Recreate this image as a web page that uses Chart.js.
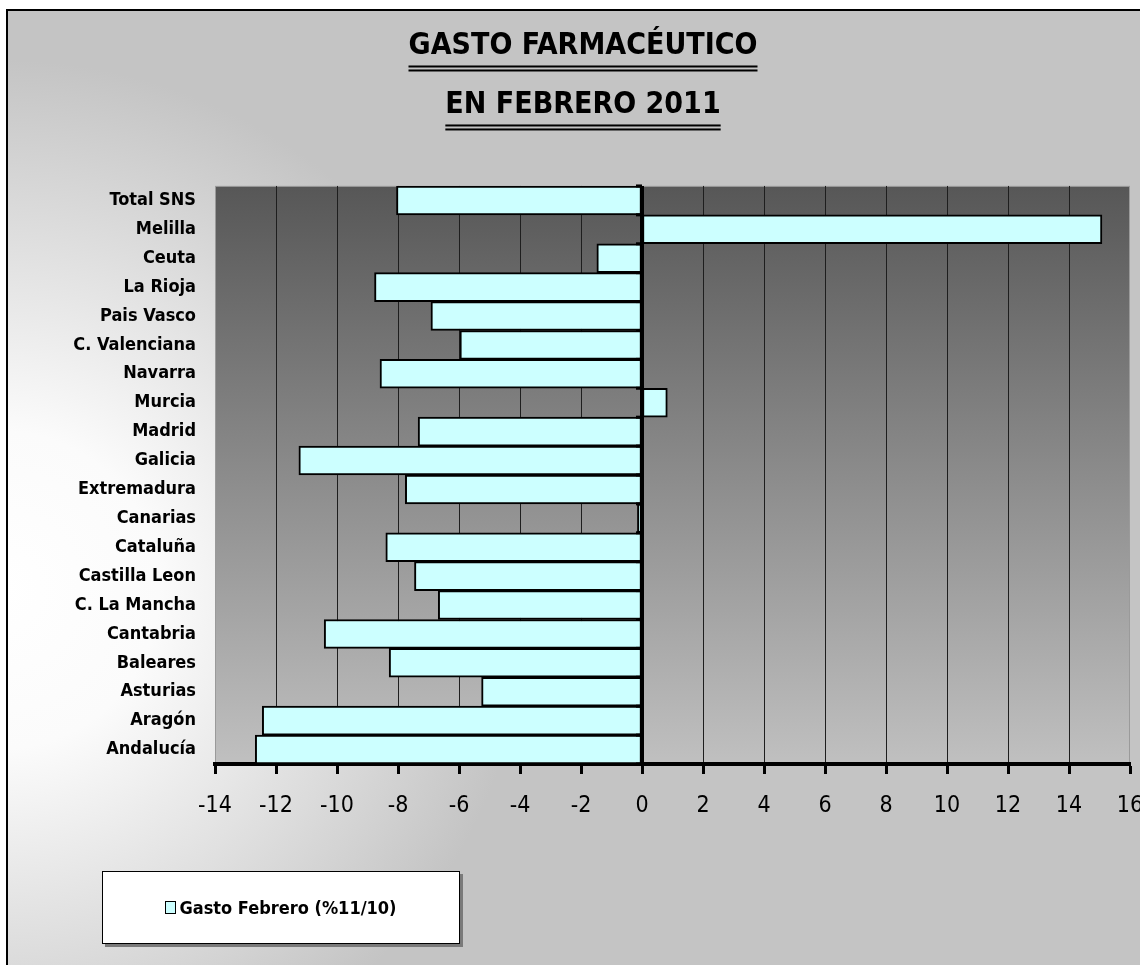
<!DOCTYPE html>
<html>
<head>
<meta charset="utf-8">
<title>Gasto farmacéutico en febrero 2011</title>
<script src="https://cdn.jsdelivr.net/npm/chart.js@4.4.0/dist/chart.umd.min.js"></script>
<style>
  html, body { margin: 0; padding: 0; background: #fff; }
  #wrap { position: relative; width: 1140px; height: 965px; overflow: hidden; }
  #legend {
    position: absolute; left: 102px; top: 871px; width: 356px; height: 71px;
    background: #fff; border: 1px solid #000; box-shadow: 3px 3px 0 #7a7a7a;
    display: flex; align-items: center; justify-content: center;
    font: bold 18px 'Liberation Sans Narrow', 'Arial Narrow', 'DejaVu Sans Condensed', sans-serif;
    color: #000;
  }
  #legend .swatch { width: 9px; height: 11px; background: #ccffff; border: 1px solid #000; margin-right: 3px; }
</style>
</head>
<body>
<div id="wrap">
  <canvas id="gastoChart" width="1140" height="965"></canvas>
  <div id="legend"><span class="swatch"></span><span>Gasto Febrero (%11/10)</span></div>
</div>
<script>
// Data (top row first)
const categories = ['Total SNS', 'Melilla', 'Ceuta', 'La Rioja', 'Pais Vasco', 'C. Valenciana',
  'Navarra', 'Murcia', 'Madrid', 'Galicia', 'Extremadura', 'Canarias', 'Cataluña',
  'Castilla Leon', 'C. La Mancha', 'Cantabria', 'Baleares', 'Asturias', 'Aragón', 'Andalucía'];
const gastoFebrero = [-8.05, 15.08, -1.48, -8.77, -6.92, -5.97, -8.59, 0.83, -7.34, -11.25,
  -7.76, -0.15, -8.40, -7.46, -6.68, -10.42, -8.29, -5.26, -12.45, -12.68];
const xMin = -14;
const xMax = 16;
const xStep = 2;
const titleLines = ['GASTO FARMACÉUTICO', 'EN FEBRERO 2011'];

const narrow = "'Liberation Sans Narrow', 'Arial Narrow', 'DejaVu Sans Condensed', sans-serif";

// Backgrounds: outer gradient + plot area gradient
const backgroundPlugin = {
  id: 'backgrounds',
  beforeDraw(chart) {
    const ctx = chart.ctx;
    const area = chart.chartArea;
    ctx.save();
    ctx.fillStyle = '#fff';
    ctx.fillRect(0, 0, chart.width, chart.height);
    const rg = ctx.createRadialGradient(0, 590, 0, 0, 590, 530);
    rg.addColorStop(0, '#ffffff');
    rg.addColorStop(0.3, '#fbfbfb');
    rg.addColorStop(1, '#c4c4c4');
    ctx.fillStyle = rg;
    ctx.fillRect(7, 10, chart.width, chart.height);
    ctx.strokeStyle = '#000';
    ctx.lineWidth = 2;
    ctx.beginPath();
    ctx.moveTo(7, chart.height);
    ctx.lineTo(7, 10);
    ctx.lineTo(chart.width, 10);
    ctx.stroke();

    const lg = ctx.createLinearGradient(0, area.top, 0, area.bottom);
    lg.addColorStop(0, '#575757');
    lg.addColorStop(1, '#c0c0c0');
    ctx.fillStyle = lg;
    ctx.fillRect(area.left, area.top, area.right - area.left, area.bottom - area.top);
    ctx.strokeStyle = '#9a9a9a';
    ctx.lineWidth = 1;
    ctx.strokeRect(area.left + 0.5, area.top + 0.5, area.right - area.left - 1, area.bottom - area.top);
    ctx.restore();
  }
};

// Zero line with its small ticks, drawn over the bars
const zeroAxisPlugin = {
  id: 'zeroAxis',
  afterDatasetsDraw(chart) {
    const ctx = chart.ctx;
    const area = chart.chartArea;
    const x0 = chart.scales.x.getPixelForValue(0);
    const yScale = chart.scales.y;
    ctx.save();
    ctx.strokeStyle = '#000';
    ctx.lineWidth = 4;
    ctx.beginPath();
    ctx.moveTo(x0, area.top);
    ctx.lineTo(x0, area.bottom);
    ctx.stroke();
    ctx.lineWidth = 3;
    for (let i = 0; i <= categories.length; i++) {
      const y = yScale.getPixelForValue(i - 0.5);
      ctx.beginPath();
      ctx.moveTo(x0 - 6, y);
      ctx.lineTo(x0, y);
      ctx.stroke();
    }
    ctx.restore();
  }
};

// Double underline below each title line
const underlinePlugin = {
  id: 'doubleUnderline',
  afterDraw(chart) {
    const tb = chart.titleBlock;
    const opts = chart.options.plugins.title;
    const ctx = chart.ctx;
    const size = opts.font.size;
    const lh = size * opts.font.lineHeight;
    const cx = (tb.left + tb.right) / 2;
    ctx.save();
    ctx.font = 'bold ' + size + 'px ' + narrow;
    ctx.fillStyle = '#000';
    titleLines.forEach((line, i) => {
      const w = ctx.measureText(line).width;
      const yc = tb.top + opts.padding.top + lh / 2 + i * lh;
      ctx.fillRect(cx - w / 2, yc + 19, w, 2);
      ctx.fillRect(cx - w / 2, yc + 23, w, 2);
    });
    ctx.restore();
  }
};

const ctx = document.getElementById('gastoChart').getContext('2d');
new Chart(ctx, {
  type: 'bar',
  data: {
    labels: categories,
    datasets: [{
      label: 'Gasto Febrero (%11/10)',
      data: gastoFebrero,
      backgroundColor: '#ccffff',
      borderColor: '#000',
      borderWidth: 2,
      borderSkipped: false,
      barPercentage: 1,
      categoryPercentage: 1
    }]
  },
  options: {
    indexAxis: 'y',
    responsive: false,
    animation: false,
    // left padding only shifts the title centre; y axis width makes up the rest
    layout: { padding: { left: 36, right: 10, top: 0, bottom: 0 } },
    plugins: {
      legend: { display: false },
      tooltip: { enabled: false },
      title: {
        display: true,
        text: titleLines,
        color: '#000',
        font: { family: narrow, size: 30, weight: 'bold', lineHeight: 1.966 },
        padding: { top: 17, bottom: 51 }
      }
    },
    scales: {
      x: {
        min: xMin,
        max: xMax,
        ticks: {
          stepSize: xStep,
          color: '#000',
          padding: 18,
          font: { family: narrow, size: 23 }
        },
        grid: {
          color: c => (c.tick && (c.tick.value === xMin || c.tick.value === xMax || c.tick.value === 0)) ? 'rgba(0,0,0,0)' : '#1e1e1e',
          lineWidth: 1,
          drawTicks: true,
          tickLength: 10,
          tickColor: '#000',
          tickWidth: 3
        },
        border: { display: true, color: '#000', width: 4 },
        afterFit: s => { s.height = 201; s.paddingLeft = 0; s.paddingRight = 0; }
      },
      y: {
        grid: { display: false, drawTicks: false },
        border: { display: false },
        ticks: {
          color: '#000',
          padding: 19,
          autoSkip: false,
          font: { family: narrow, size: 18, weight: 'bold' }
        },
        afterFit: s => { s.width = 179; s.paddingTop = 0; s.paddingBottom = 0; }
      }
    }
  },
  plugins: [backgroundPlugin, zeroAxisPlugin, underlinePlugin]
});
</script>
</body>
</html>
